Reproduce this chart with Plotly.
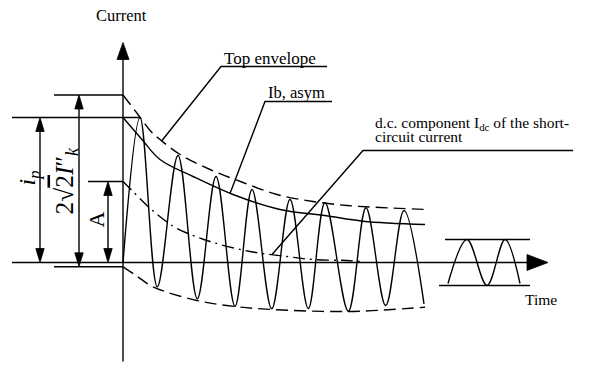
import plotly.graph_objects as go

# Short-circuit current, turning points of the waveform (time, current)
wave_t = [0, 17, 34.3, 55, 74.3, 93, 112, 129, 148.7, 167, 185.3, 202, 225.3, 243, 262.7, 281, 301]
wave_i = [0, 145, -24.3, 107, -36.3, 86, -43.7, 73, -46.3, 63, -46, 59.7, -48.7, 54.7, -43, 52, -41.3]

# Top envelope
top_t = [0, 15, 28, 37, 57, 87, 120, 154, 190, 224, 257, 305]
top_i = [167.5, 148, 131, 123, 108, 93, 80, 68, 61, 57, 55, 53]

# Bottom envelope
bot_t = [0, 14, 30, 74, 112, 149, 225, 302]
bot_i = [-4.3, -13.7, -24.3, -38, -44, -47, -49, -44.7]

# Ib, asym
ib_t = [0, 19, 37, 70, 110, 157, 202, 240, 302]
ib_i = [145, 123, 103, 86, 68, 53, 47, 41.3, 38]

# d.c. component
dc_t = [0, 8, 25, 42, 54, 87, 127, 164, 190, 224, 239]
dc_i = [81, 73, 56, 42, 34, 21, 11, 6, 3, 2, 1]

# Steady-state inset waveform and its bounds
inset_t = [325, 344, 364, 382, 397]
inset_i = [-21, 23, -23, 23, -21]
inset_top_t = [322, 407]
inset_bot_t = [316, 407]

ip = wave_i[1]             # peak short-circuit current
ip_time = wave_t[1]
ac_top = top_i[0]          # 2*sqrt(2)*I''k spans top to bottom envelope
ac_bot = bot_i[0]
dc_a = dc_i[0]             # A

INK = "black"
LW = 1.4
SERIF = "Liberation Serif, Times New Roman, serif"

fig = go.Figure()


def line(xs, ys, dash=None, shape="linear", width=LW):
    fig.add_trace(go.Scatter(
        x=xs, y=ys, mode="lines", hoverinfo="skip",
        line=dict(color=INK, width=width, dash=dash, shape=shape,
                  smoothing=1 if shape == "spline" else None),
    ))


def head(tip_t, tip_i, dx, dy, length, half):
    """Filled triangular arrow head pointing along (dx, dy)."""
    bx, by = tip_t - dx * length, tip_i - dy * length
    px, py = -dy * half, dx * half
    fig.add_trace(go.Scatter(
        x=[tip_t, bx + px, bx - px, tip_t],
        y=[tip_i, by + py, by - py, tip_i],
        mode="lines", fill="toself", fillcolor=INK,
        line=dict(color=INK, width=0.8), hoverinfo="skip",
    ))


# Axes of the diagram
t_left, t_tip = -111, 425
i_bottom, i_tip = -99, 220
line([0, 0], [i_bottom, i_tip - 15])
head(0, i_tip, 0, 1, 17, 6)
line([t_left, t_tip - 18], [0, 0])
head(t_tip, 0, 1, 0, 21, 8)

# Waveform and envelopes
line(wave_t, wave_i, shape="spline")
line(top_t, top_i, dash="12px,6px", shape="spline")
line(bot_t, bot_i, dash="12px,6px", shape="spline")
line(ib_t, ib_i, shape="spline")
line(dc_t, dc_i, dash="12px,5px,2px,5px", shape="spline")

# Steady-state inset
line(inset_t, inset_i, shape="spline")
line(inset_top_t, [max(inset_i)] * 2)
line(inset_bot_t, [min(inset_i)] * 2)

# Dimension lines: i_p, 2*sqrt(2)*I''k, A
line([t_left, ip_time], [ip, ip])
line([-69, 0], [ac_top, ac_top])
line([-69, 0], [ac_bot, ac_bot])
line([-35, 0], [dc_a, dc_a])

for xt, lo, hi in [(-83, 0, ip), (-44, ac_bot, ac_top), (-15, 0, dc_a)]:
    line([xt, xt], [lo + 10, hi - 10])
    head(xt, hi, 0, 1, 14, 4.2)
    head(xt, lo, 0, -1, 14, 4.2)

# Leader lines with underlines
line([39, 98, 204], [122, 196, 196])
line([107, 142, 209], [69, 161, 161])
line([149, 240, 450], [8, 112, 112])


def text(t, i, s, size=16, xanchor="left", yanchor="bottom", angle=0):
    fig.add_annotation(
        x=t, y=i, xref="x", yref="y", text=s, showarrow=False,
        xanchor=xanchor, yanchor=yanchor, textangle=angle,
        font=dict(family=SERIF, size=size, color=INK),
    )


text(-2, 247, "Current", size=16.5, xanchor="center", yanchor="middle")
text(99, 193, "Top envelope", size=17)
text(143, 159, "Ib, asym", size=16.5)
text(250, 139, "d.c. component I<sub>dc</sub> of the short-", size=15.5, yanchor="middle")
text(250, 126, "circuit current", size=15.5, yanchor="middle")
text(418, -37, "Time", size=15.5, xanchor="center", yanchor="middle")

text(-95, 84, "<i>i<sub>p</sub></i>", size=24, xanchor="center", yanchor="middle", angle=-90)
text(-58, 82, "2√<span style='text-decoration:overline'>2</span><i>I</i>″<sub><i>k</i></sub>",
     size=25.5, xanchor="center", yanchor="middle", angle=-90)
text(-27, 43, "A", size=22, xanchor="center", yanchor="middle", angle=-90)

fig.update_layout(
    width=591, height=365, autosize=False,
    margin=dict(l=0, r=0, t=0, b=0),
    paper_bgcolor="white", plot_bgcolor="white",
    showlegend=False,
    xaxis=dict(range=[-123, 468], visible=False, fixedrange=True),
    yaxis=dict(range=[-102.5, 262.5], visible=False, fixedrange=True),
)

fig.write_html("out.html")
